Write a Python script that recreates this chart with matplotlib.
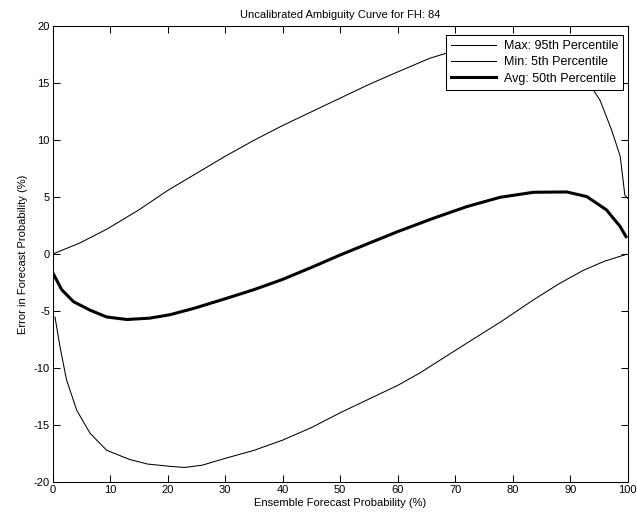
import matplotlib
matplotlib.use("Agg")
import matplotlib.pyplot as plt

plt.rcParams["font.family"] = ["Liberation Sans", "DejaVu Sans"]
plt.rcParams["axes.unicode_minus"] = False

# readings (x in %, error in %)
max_x = [0, 0.4, 4.75, 9.4, 15, 20, 25, 30, 35, 40, 45, 50, 55, 60, 65.6, 68.2, 75, 82, 88, 92, 95.2, 97.2, 98.7, 99.5, 100]
max_y = [0, 0.1, 1.0, 2.2, 3.9, 5.6, 7.1, 8.6, 10.0, 11.3, 12.5, 13.7, 14.9, 16.0, 17.2, 17.6, 18.3, 18.5, 17.8, 16.0, 13.5, 10.9, 8.6, 5.2, 4.9]

min_x = [0.4, 1.27, 2.4, 4.2, 6.5, 9.4, 13.4, 16.5, 20.4, 22.9, 26, 30, 35, 40, 45, 50, 55, 60, 63.9, 67, 72, 78, 83.6, 88, 92.3, 96, 99.8]
min_y = [-5.5, -8.1, -11.0, -13.7, -15.7, -17.2, -18.0, -18.4, -18.6, -18.7, -18.5, -17.9, -17.2, -16.3, -15.2, -13.9, -12.7, -11.5, -10.4, -9.4, -7.8, -5.9, -4.0, -2.6, -1.4, -0.6, 0.0]

avg_x = [0.1, 1.56, 3.6, 6.5, 9.4, 12.9, 16.9, 20.4, 24.5, 30, 35, 40, 45, 50, 55, 60, 66.2, 72, 77.8, 83.6, 89.4, 92.9, 96.3, 98.7, 99.7]
avg_y = [-1.7, -3.1, -4.15, -4.9, -5.5, -5.72, -5.6, -5.3, -4.75, -3.9, -3.1, -2.2, -1.15, -0.06, 0.97, 1.99, 3.16, 4.18, 5.0, 5.44, 5.47, 5.06, 3.9, 2.43, 1.55]

fig = plt.figure(figsize=(6.37, 5.21), dpi=100)
ax = fig.add_axes([0.0827, 0.0743, 0.9027, 0.8752])

ax.plot(max_x, max_y, color="black", lw=0.75, label="Max: 95th Percentile")
ax.plot(min_x, min_y, color="black", lw=0.75, label="Min: 5th Percentile")
ax.plot(avg_x, avg_y, color="black", lw=2.2, label="Avg: 50th Percentile")

ax.set_xlim(0, 100)
ax.set_ylim(-20, 20)
ax.set_xticks(range(0, 101, 10))
ax.set_yticks(range(-20, 21, 5))
ax.tick_params(direction="in", top=True, right=True, length=5, width=0.75, labelsize=8, pad=2)
for s in ax.spines.values():
    s.set_linewidth(0.75)

ax.set_title("Uncalibrated Ambiguity Curve for FH: 84", fontsize=8, pad=6)
ax.set_xlabel("Ensemble Forecast Probability (%)", fontsize=8, labelpad=2)
ax.set_ylabel("Error in Forecast Probability (%)", fontsize=8, labelpad=4)

leg = ax.legend(loc="upper right", bbox_to_anchor=(0.992, 0.981), fontsize=9,
                frameon=True, fancybox=False, framealpha=1, edgecolor="black",
                borderaxespad=0, handlelength=3.6, labelspacing=0.35, borderpad=0.4,
                handletextpad=0.6)
leg.get_frame().set_linewidth(0.75)

fig.savefig("out.png", dpi=100)
